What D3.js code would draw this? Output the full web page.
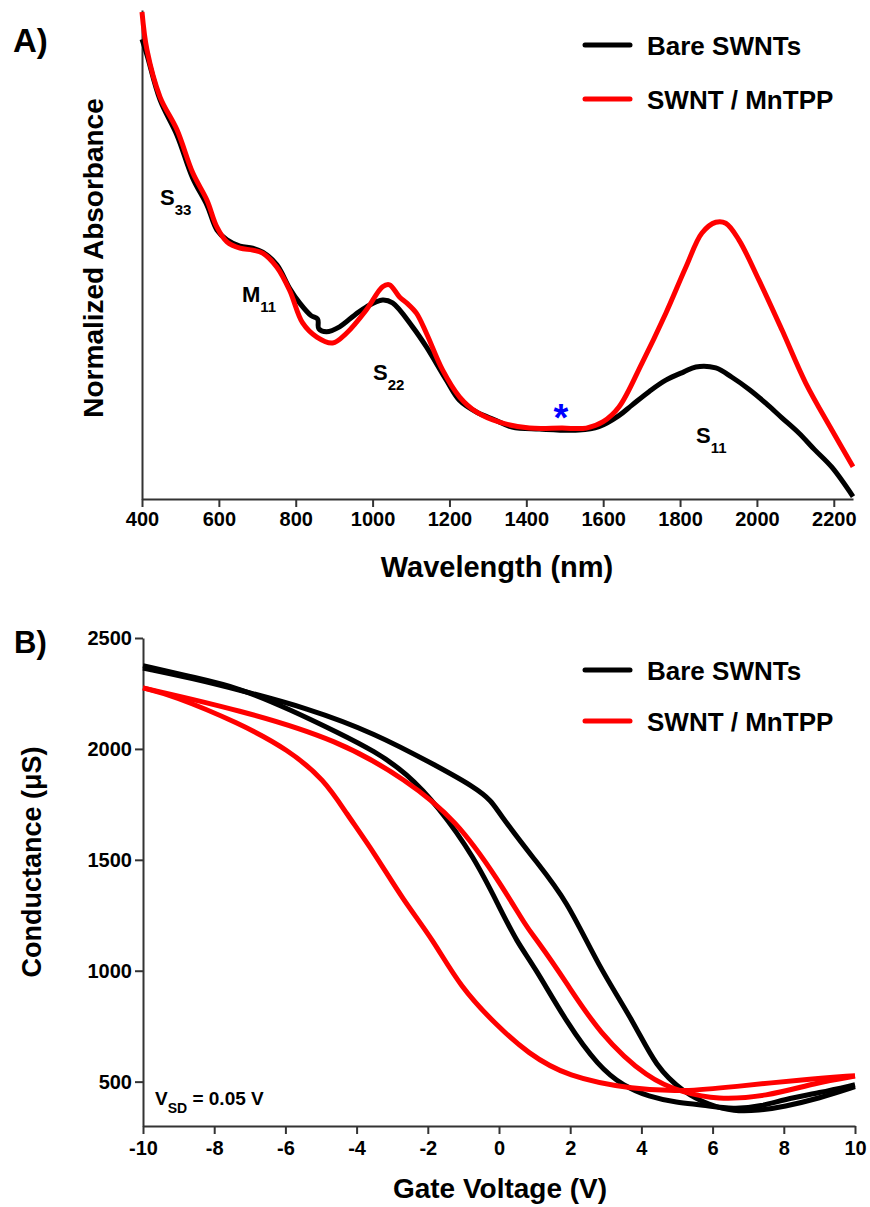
<!DOCTYPE html>
<html>
<head>
<meta charset="utf-8">
<script src="https://cdn.jsdelivr.net/npm/d3@7"></script>
<style>
  body { margin: 0; background: #fff; }
  svg { display: block; }
</style>
</head>
<body>
<svg id="chart" width="870" height="1207"></svg>
<script>
const FONT = '"Liberation Sans", Arial, Helvetica, sans-serif';
const BLACK = '#000';
const RED = '#ff0000';
const LINE_W = 5;

// ---- panel A: absorbance spectra (arbitrary units, 0 = axis) ----
const wavelengthBare = [400, 413, 447, 491, 532, 569, 595, 621, 655, 688, 714, 751, 784, 810, 840, 857, 860, 880, 914, 953, 984, 1026, 1052, 1104, 1140, 1192, 1226, 1270, 1317, 1363, 1434, 1537, 1589, 1640, 1675, 1720, 1763, 1810, 1841, 1893, 1935, 1980, 2023, 2065, 2109, 2150, 2195, 2250];
const absBare = [94, 90.8, 81.6, 74.4, 65.6, 60.1, 55.0, 53.0, 51.7, 51.3, 50.5, 47.9, 43.1, 40.1, 37.5, 36.8, 34.8, 34.2, 35.2, 37.6, 39.3, 40.7, 40.1, 35.2, 31.1, 24.3, 20.2, 17.8, 16.2, 14.7, 14.3, 14.1, 14.8, 17.0, 19.2, 22.0, 24.3, 26.0, 27.0, 26.8, 24.9, 22.4, 19.6, 16.6, 13.5, 10.1, 6.5, 0.5];

const wavelengthMn = [400, 413, 447, 491, 532, 569, 595, 621, 655, 688, 714, 751, 784, 818, 855, 896, 932, 984, 1026, 1044, 1070, 1090, 1114, 1140, 1182, 1226, 1270, 1330, 1408, 1493, 1556, 1600, 1641, 1701, 1763, 1815, 1857, 1893, 1919, 1953, 2005, 2065, 2127, 2195, 2250];
const absMn = [99.6, 91.8, 82.2, 75.5, 66.7, 61.1, 55.6, 52.6, 51.3, 50.9, 50.3, 47.4, 42.7, 36.0, 33.1, 31.9, 33.9, 38.7, 43.4, 43.8, 41.3, 40.0, 38.0, 33.9, 26.4, 20.9, 17.8, 15.7, 14.5, 14.5, 14.5, 15.8, 18.8, 27.8, 38.0, 47.4, 54.4, 56.6, 56.4, 53.0, 44.8, 34.6, 23.7, 14.1, 6.6];

const wavelengthTicks = [400, 600, 800, 1000, 1200, 1400, 1600, 1800, 2000, 2200];

// ---- panel B: transfer curves, two sweep branches per device ----
const gateBareA = [-10, -8.6, -7.3, -5.4, -3.5, -1.7, -0.7, -0.2, 0.0, 1.0, 1.9, 2.8, 3.8, 4.4, 5.2, 5.9, 6.6, 7.3, 8.0, 9.0, 10];
const condBareA = [2365, 2318, 2266, 2185, 2072, 1919, 1829, 1765, 1710, 1500, 1320, 1018, 766, 567, 450, 395, 365, 370, 387, 425, 477];
const gateBareB = [-10, -8.5, -7.3, -5.9, -4.5, -3.5, -2.6, -1.7, -0.7, 0.0, 0.5, 1.0, 1.9, 2.8, 3.5, 4.2, 5.0, 5.7, 6.6, 7.4, 8.0, 9.0, 10];
const condBareB = [2375, 2320, 2275, 2180, 2072, 1990, 1892, 1739, 1513, 1290, 1130, 1018, 766, 567, 480, 432, 405, 396, 374, 390, 419, 450, 486];

const gateMnA = [-10, -7.3, -4.5, -2.6, -1.2, 0.0, 0.8, 1.0, 1.9, 2.8, 4.2, 5.2, 6.1, 7.5, 8.9, 10];
const condMnA = [2275, 2176, 2040, 1860, 1680, 1405, 1190, 1153, 946, 720, 509, 450, 419, 432, 495, 525];
const gateMnB = [-10, -9.2, -7.3, -5.9, -4.9, -4.3, -3.5, -2.7, -1.85, -1.1, 0.0, 0.8, 1.9, 3.8, 5.2, 6.6, 8.5, 10];
const condMnB = [2275, 2243, 2117, 1995, 1860, 1712, 1531, 1320, 1140, 928, 743, 630, 522, 464, 455, 477, 509, 527];

const gateTicks = [-10, -8, -6, -4, -2, 0, 2, 4, 6, 8, 10];
const condTicks = [500, 1000, 1500, 2000, 2500];

const legendLabels = ['Bare SWNTs', 'SWNT / MnTPP'];

const svg = d3.select('#chart');
svg.append('rect').attr('width', 870).attr('height', 1207).attr('fill', '#fff');

function styleAxis(g, size) {
  g.attr('font-family', FONT).attr('font-size', size).attr('font-weight', 'bold');
  g.select('.domain').attr('stroke', '#333').attr('stroke-width', 2);
  g.selectAll('.tick line').attr('stroke', '#333').attr('stroke-width', 2);
  g.selectAll('.tick text').attr('fill', '#000');
}

function addText(x, y, str, size, opts = {}) {
  const t = svg.append('text')
    .attr('x', x).attr('y', y)
    .attr('font-family', FONT).attr('font-weight', 'bold')
    .attr('font-size', size)
    .attr('fill', opts.fill || '#000')
    .attr('text-anchor', opts.anchor || 'start')
    .text(str);
  if (opts.transform) t.attr('transform', opts.transform).attr('x', 0).attr('y', 0);
  return t;
}

// label with subscript, e.g. S33
function addSub(x, y, main, sub, size, subSize) {
  const t = svg.append('text')
    .attr('x', x).attr('y', y)
    .attr('font-family', FONT).attr('font-weight', 'bold')
    .attr('font-size', size).attr('fill', '#000');
  t.append('tspan').text(main);
  t.append('tspan').attr('font-size', subSize).attr('dy', 10).text(sub);
  return t;
}

function legend(y1, y2) {
  [[y1, BLACK, legendLabels[0]], [y2, RED, legendLabels[1]]].forEach(([y, c, label]) => {
    svg.append('line')
      .attr('x1', 585).attr('x2', 630).attr('y1', y).attr('y2', y)
      .attr('stroke', c).attr('stroke-width', LINE_W).attr('stroke-linecap', 'round');
    addText(647, y + 10, label, 26);
  });
}

const plain = (d) => String(d);

// ================= panel A =================
const xA = d3.scaleLinear().domain([400, 2250]).range([142, 853]);
const yA = d3.scaleLinear().domain([0, 100]).range([499, 10]);

const lineA = d3.line()
  .x((d) => xA(d[0]))
  .y((d) => yA(d[1]))
  .curve(d3.curveCatmullRom.alpha(0.5));

svg.append('g')
  .attr('transform', 'translate(0,499)')
  .call(d3.axisBottom(xA).tickValues(wavelengthTicks).tickSizeInner(8).tickSizeOuter(0).tickPadding(5).tickFormat(plain))
  .call((g) => styleAxis(g, 20));

svg.append('g')
  .attr('transform', 'translate(142,0)')
  .call(d3.axisLeft(yA).tickValues([]).tickSizeOuter(0))
  .call((g) => styleAxis(g, 20));

svg.append('path')
  .datum(d3.zip(wavelengthBare, absBare))
  .attr('d', lineA)
  .attr('fill', 'none').attr('stroke', BLACK).attr('stroke-width', LINE_W)
  .attr('stroke-linejoin', 'round');

svg.append('path')
  .datum(d3.zip(wavelengthMn, absMn))
  .attr('d', lineA)
  .attr('fill', 'none').attr('stroke', RED).attr('stroke-width', LINE_W)
  .attr('stroke-linejoin', 'round');

addText(13, 52, 'A)', 33);
addText(0, 0, 'Normalized Absorbance', 28, { anchor: 'middle', transform: 'translate(103,258) rotate(-90)' });
addText(497, 577, 'Wavelength (nm)', 29, { anchor: 'middle' });

addSub(160, 205, 'S', '33', 22, 15);
addSub(242, 302, 'M', '11', 22, 15);
addSub(373, 380, 'S', '22', 22, 15);
addSub(696, 443, 'S', '11', 22, 15);
addText(561, 431, '*', 38, { anchor: 'middle', fill: '#0000ff' });

legend(45, 99);

// ================= panel B =================
const xB = d3.scaleLinear().domain([-10, 10]).range([143, 855]);
const yB = d3.scaleLinear().domain([300, 2500]).range([1126, 638]);

const lineB = d3.line()
  .x((d) => xB(d[0]))
  .y((d) => yB(d[1]))
  .curve(d3.curveBasis);

svg.append('g')
  .attr('transform', 'translate(0,1126)')
  .call(d3.axisBottom(xB).tickValues(gateTicks).tickSizeInner(8).tickSizeOuter(0).tickPadding(7).tickFormat(plain))
  .call((g) => styleAxis(g, 20));

svg.append('g')
  .attr('transform', 'translate(143,0)')
  .call(d3.axisLeft(yB).tickValues(condTicks).tickSizeInner(8).tickSizeOuter(0).tickPadding(3).tickFormat(plain))
  .call((g) => styleAxis(g, 20));

const branches = [
  [gateBareA, condBareA, BLACK],
  [gateBareB, condBareB, BLACK],
  [gateMnA, condMnA, RED],
  [gateMnB, condMnB, RED],
];
branches.forEach(([v, g, c]) => {
  svg.append('path')
    .datum(d3.zip(v, g))
    .attr('d', lineB)
    .attr('fill', 'none').attr('stroke', c).attr('stroke-width', LINE_W)
    .attr('stroke-linejoin', 'round');
});

addText(14, 653, 'B)', 31);
addText(0, 0, 'Conductance (\u03bcS)', 27, { anchor: 'middle', transform: 'translate(41,862) rotate(-90)' });
addText(500, 1198, 'Gate Voltage (V)', 28, { anchor: 'middle' });

// V_SD note
const vsd = svg.append('text')
  .attr('x', 155).attr('y', 1105)
  .attr('font-family', FONT).attr('font-weight', 'bold').attr('font-size', 19);
vsd.append('tspan').text('V');
vsd.append('tspan').attr('font-size', 14).attr('dy', 8).text('SD');
vsd.append('tspan').attr('dy', -8).text(' = 0.05 V');

legend(670, 721);
</script>
</body>
</html>
